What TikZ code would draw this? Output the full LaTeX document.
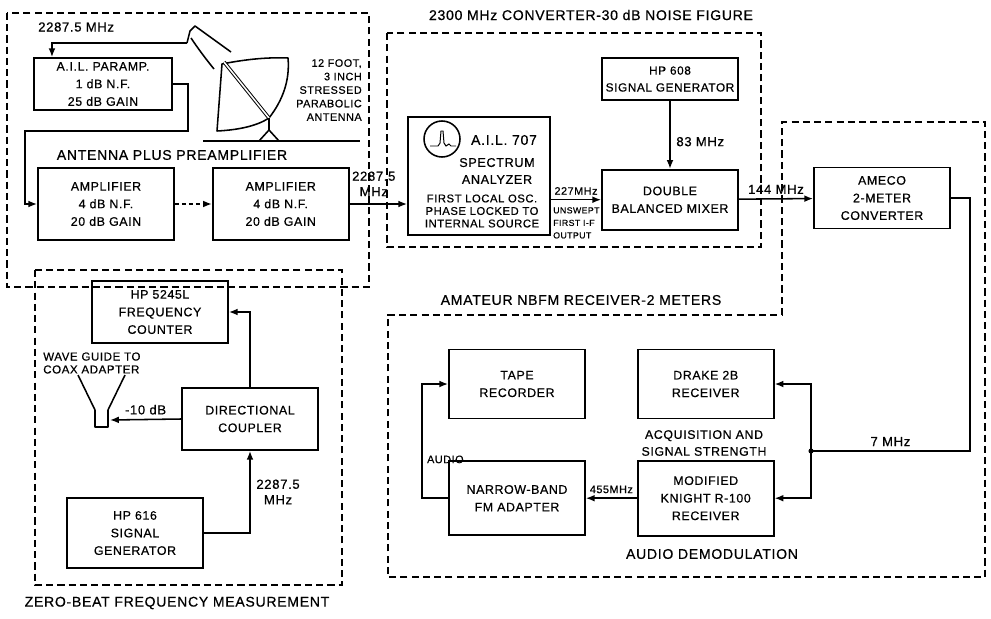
\documentclass[tikz,border=0pt]{standalone}
\usepackage{fontspec}
\usetikzlibrary{positioning,arrows.meta}
\newfontfamily\lettering[LetterSpace=5, FakeBold=0.6]{Liberation Sans}
\tikzset{
  unit/.style={rectangle, draw=black, line width=1.2pt, align=center, inner sep=1pt,
    minimum width=3.4cm, font=\lettering\fontsize{8.8}{12.5}\selectfont},
  group/.style={draw=black, line width=1pt, dash pattern=on 5pt off 3pt},
  caption/.style={font=\lettering\fontsize{10}{12}\selectfont, inner sep=0pt},
  note/.style={font=\lettering\fontsize{8.8}{12}\selectfont, inner sep=0pt, align=center},
  tag/.style={font=\lettering\fontsize{9.3}{11}\selectfont, inner sep=0pt, align=center},
  smalltag/.style={font=\lettering\fontsize{7.7}{9.6}\selectfont, inner sep=0pt, align=center},
  sig/.style={line width=1.1pt, -{Latex[length=2.2mm, width=1.7mm]}},
  wire/.style={line width=1.1pt},
  sketch/.style={line width=1.1pt, line join=round},
}

\begin{document}
\begin{tikzpicture}[x=0.025cm, y=-0.025cm]
\useasboundingbox (0,0) rectangle (991,618);

% ---------- antenna plus preamplifier ----------
\draw[group] (7,13) rectangle (369,287);
\node[caption] (grpant) at (172,155) {ANTENNA PLUS PREAMPLIFIER};
\node[unit, minimum width=3.45cm, minimum height=1.3cm] (paramp) at (103,84)
  {A.I.L. PARAMP.\\1 dB N.F.\\25 dB GAIN};
\node[unit, minimum height=1.8cm] (amp1) at (106,204)
  {AMPLIFIER\\4 dB N.F.\\20 dB GAIN};
\node[unit, minimum height=1.8cm, right=0.925cm of amp1] (amp2)
  {AMPLIFIER\\4 dB N.F.\\20 dB GAIN};
\node[tag, anchor=west] (feedfreq) at (38,27) {2287.5 MHz};
\node[smalltag, align=right, anchor=east] (dishnote) at (362,90)
  {12 FOOT,\\3 INCH\\STRESSED\\PARABOLIC\\ANTENNA};

% dish, strut, tripod and ground
\draw[sketch] (222,64) -- (217,131) .. controls (238,130) and (257,126) .. (269,118)
  .. controls (283,100) and (290,80) .. (288,58) .. controls (265,57) and (242,60) .. cycle;
\draw[sketch, double, double distance=1.1pt, line width=0.7pt] (224,62) -- (269,118);
\draw[sketch] (269,118) -- (269,130) (259,141) -- (269,130) -- (279,141);
\draw[sketch] (203,141) -- (360,141);
% feed horn
\coordinate (feed) at (187,43);
\draw[sketch] (feed) -- (190,31) -- (195,26) -- (231,52);
\draw[sketch] (191,38) .. controls (197,47) and (205,58) .. (214,69);
\coordinate (loop) at (25,131);

% ---------- 2300 MHz converter ----------
\draw[group] (387,33) rectangle (761,247);
\node[caption] (grpconv) at (591,15) {2300 MHz CONVERTER-30 dB NOISE FIGURE};
\node[unit, minimum width=3.55cm, minimum height=2.95cm] (sa) at (479,176) {};
\draw[sketch] (442,139) circle (0.45cm);
\draw[line width=0.7pt] (430,146) -- (438,146) -- (440,143) -- (441,131) -- (443,131)
  -- (444,143) -- (446,146) -- (449,144) -- (451,146) -- (456,146);
\node[font=\lettering\fontsize{10}{12}\selectfont, inner sep=0pt] (saname) at (504,140) {A.I.L. 707};
\node[font=\lettering\fontsize{9}{12.1}\selectfont, inner sep=0pt, align=center] (satype) at (497,171)
  {SPECTRUM\\ANALYZER};
\node[font=\lettering\fontsize{8}{8.9}\selectfont, inner sep=0pt, align=center] (sanote) at (482,211)
  {FIRST LOCAL OSC.\\PHASE LOCKED TO\\INTERNAL SOURCE};
\node[unit, minimum height=1.05cm, font=\lettering\fontsize{8.4}{12}\selectfont] (hp608) at (670,79)
  {HP 608\\SIGNAL GENERATOR};
\node[unit, minimum height=1.5cm, below=1.7cm of hp608] (mixer) {DOUBLE\\BALANCED MIXER};
\node[font=\lettering\fontsize{6.2}{8.9}\selectfont, inner sep=0pt, align=left, anchor=north west]
  (ifout) at (553,207) {UNSWEPT\\FIRST I-F\\OUTPUT};

% ---------- AMECO converter ----------
\node[unit, minimum height=1.525cm] (ameco) at (882,198) {AMECO\\2-METER\\CONVERTER};

% ---------- zero-beat frequency measurement ----------
\draw[group] (35,270) rectangle (342,585);
\node[caption] (grpzero) at (177,603) {ZERO-BEAT FREQUENCY MEASUREMENT};
\node[unit, minimum height=1.55cm] (counter) at (160,312) {HP 5245L\\FREQUENCY\\COUNTER};
\node[unit, minimum height=1.55cm] (coupler) at (250,419) {DIRECTIONAL\\COUPLER};
\node[unit, minimum height=1.75cm] (hp616) at (135,533) {HP 616\\SIGNAL\\GENERATOR};
\draw[sketch] (78,375) -- (95,410) -- (95,427) -- (108,427) -- (108,410) -- (125,375);
\coordinate (wg) at (110,420);
\node[font=\lettering\fontsize{8.2}{9.2}\selectfont, inner sep=0pt, align=left, anchor=west]
  (wgnote) at (43,363) {WAVE GUIDE TO\\COAX ADAPTER};

% ---------- amateur NBFM receiver ----------
\draw[group] (782,315) -- (782,122) -- (985,122) -- (985,577) -- (388,577) -- (388,315) -- cycle;
\node[caption] (grprx) at (581,300) {AMATEUR NBFM RECEIVER-2 METERS};
\node[unit, minimum height=1.725cm] (tape) at (517,384) {TAPE\\RECORDER};
\node[unit, minimum height=1.725cm, right=1.275cm of tape] (drake) {DRAKE 2B\\RECEIVER};
\node[unit, minimum height=1.85cm, below=1.025cm of tape] (nbfm) {NARROW-BAND\\FM ADAPTER};
\node[unit, minimum height=1.875cm, right=1.275cm of nbfm] (knight)
  {MODIFIED\\KNIGHT R-100\\RECEIVER};
\node[note] (acq) at (704,443) {ACQUISITION AND\\SIGNAL STRENGTH};
\node[caption] (grpdemod) at (712,554) {AUDIO DEMODULATION};
\coordinate (jn) at (811,451);

% ================= signal paths =================
\draw[sig] (feed) -| ([xshift=-1.275cm]paramp.north);
\draw[sig] (paramp.east) -- ++(15,0) |- (loop) |- (amp1.west);
\draw[sig, dash pattern=on 3pt off 2pt] (amp1) -- (amp2);
\draw[sig] (amp2.east) -- node[tag, pos=0.42, above=5pt] {2287.5\\MHz} (amp2.east -| sa.west);
\draw[sig] (mixer.west -| sa.east) -- node[smalltag, above=3pt] {227MHz} (mixer.west);
\draw[sig] (hp608) -- node[tag, pos=0.6, right=4pt] {83 MHz} (mixer);
\draw[sig] (mixer) -- node[tag, above=3pt] {144 MHz} (ameco);

% 7 MHz IF split to both receivers
\draw[wire] (ameco.east) -- ++(19,0) |- node[tag, pos=0.75, above=3pt] {7 MHz} (jn);
\fill (jn) circle (1.8pt);
\draw[sig] (jn) |- (drake.east);
\draw[sig] (jn) |- (knight.east);
\draw[sig] (knight.west) -- node[smalltag, above=3pt] {455MHz} (knight.west -| nbfm.east);
\draw[sig] (nbfm.west) -- ++(-26,0) |- node[smalltag, pos=0.17, right=3pt] {AUDIO} (tape.west);

% zero-beat loop
\draw[sig] (coupler.north) |- (counter.east);
\draw[sig] (hp616.east) -| node[tag, pos=0.75, right=4pt] {2287.5\\MHz} (coupler.south);
\draw[sig] (coupler.west) -- node[tag, above=3pt] {-10 dB} (wg);

\end{tikzpicture}
\end{document}
